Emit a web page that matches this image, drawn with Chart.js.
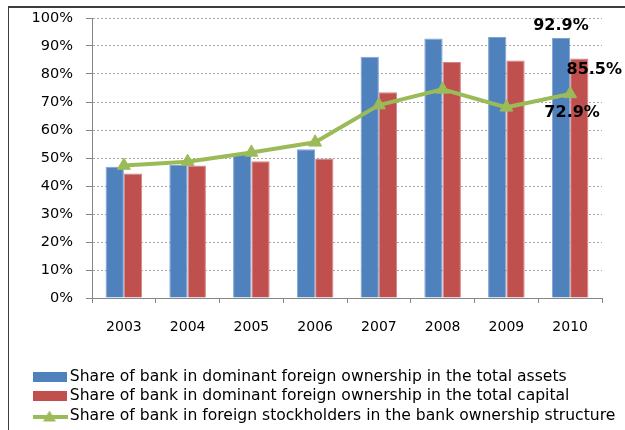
<!DOCTYPE html>
<html>
<head>
<meta charset="utf-8">
<script src="https://cdn.jsdelivr.net/npm/chart.js@4.4.0/dist/chart.umd.min.js"></script>
<style>
    html, body { margin: 0; padding: 0; background: #fff; }
    #contenedor { position: relative; width: 625px; height: 430px; }
    #marco {
        position: absolute; left: 8px; top: 6px; right: 0; bottom: 0;
        border-top: 2px solid #3c3c3c; border-left: 1px solid #3c3c3c;
        pointer-events: none;
    }
</style>
</head>
<body>
<div id="contenedor">
    <canvas id="grafica" width="625" height="430"></canvas>
    <div id="marco"></div>
</div>
<script>
// Datos
const years = ['2003', '2004', '2005', '2006', '2007', '2008', '2009', '2010'];
const assetsShare = [46.9, 47.5, 51.7, 53.1, 86.2, 92.7, 93.2, 92.9];
const capitalShare = [44.5, 47.3, 48.8, 49.8, 73.5, 84.3, 84.8, 85.5];
const stockholdersShare = [47.3, 48.7, 52.0, 55.6, 68.9, 74.5, 68.1, 72.9];
const seriesNames = [
    'Share of bank in dominant foreign ownership in the total assets',
    'Share of bank in dominant foreign ownership in the total capital',
    'Share of bank in foreign stockholders in the bank ownership structure'
];
const yMin = 0;
const yMax = 100;
const yStep = 10;

const AZUL = '#4F81BD';
const ROJO = '#C0504D';
const VERDE = '#9BBB59';
const FUENTE = '"DejaVu Sans", sans-serif';

// Cajitas de la leyenda (rectangulo y linea con triangulo)
function cajaLeyenda(color) {
    const c = document.createElement('canvas');
    c.width = 35; c.height = 10;
    const g = c.getContext('2d');
    g.fillStyle = color;
    g.fillRect(0, 0, 35, 10);
    return c;
}

function lineaLeyenda(color) {
    const c = document.createElement('canvas');
    c.width = 36; c.height = 12;
    const g = c.getContext('2d');
    g.strokeStyle = color;
    g.lineWidth = 4;
    g.beginPath(); g.moveTo(0, 7); g.lineTo(36, 7); g.stroke();
    g.fillStyle = color;
    g.beginPath(); g.moveTo(18, 0.5); g.lineTo(24.5, 11.5); g.lineTo(11.5, 11.5); g.closePath(); g.fill();
    return c;
}

const simbolos = [cajaLeyenda(AZUL), cajaLeyenda(ROJO), lineaLeyenda(VERDE)];

// Etiquetas de valores del ultimo año
const etiquetas = {
    id: 'etiquetas',
    afterDatasetsDraw(chart) {
        const ctx = chart.ctx;
        const ultimo = years.length - 1;
        ctx.save();
        ctx.font = 'bold 16px "DejaVu Sans", sans-serif';
        ctx.fillStyle = '#000';
        ctx.textAlign = 'center';
        ctx.textBaseline = 'middle';
        const azul = chart.getDatasetMeta(0).data[ultimo];
        ctx.fillText(assetsShare[ultimo].toFixed(1) + '%', azul.x, azul.y - 12);
        const rojo = chart.getDatasetMeta(1).data[ultimo];
        ctx.fillText(capitalShare[ultimo].toFixed(1) + '%', rojo.x + 15, rojo.y + 11);
        const verde = chart.getDatasetMeta(2).data[ultimo];
        ctx.fillText(stockholdersShare[ultimo].toFixed(1) + '%', verde.x + 2, verde.y + 19);
        ctx.restore();
    }
};

Chart.defaults.font.family = FUENTE;
Chart.defaults.font.size = 14;
Chart.defaults.color = '#000';

const ctx = document.getElementById('grafica').getContext('2d');
const myChart = new Chart(ctx, {
    type: 'bar',
    data: {
        labels: years,
        datasets: [
            {
                label: seriesNames[0],
                data: assetsShare,
                backgroundColor: AZUL,
                borderColor: '#7ea3d3',
                borderWidth: { left: 1, right: 1, top: 1, bottom: 0 },
                categoryPercentage: 0.574,
                barPercentage: 1,
                order: 1
            },
            {
                label: seriesNames[1],
                data: capitalShare,
                backgroundColor: ROJO,
                borderColor: '#d58583',
                borderWidth: { left: 1, right: 1, top: 1, bottom: 0 },
                categoryPercentage: 0.574,
                barPercentage: 1,
                order: 1
            },
            {
                type: 'line',
                label: seriesNames[2],
                data: stockholdersShare,
                borderColor: VERDE,
                backgroundColor: VERDE,
                borderWidth: 4,
                tension: 0,
                pointStyle: 'triangle',
                pointRadius: 7.5,
                pointBackgroundColor: VERDE,
                pointBorderColor: VERDE,
                pointBorderWidth: 1,
                order: 0
            }
        ]
    },
    options: {
        responsive: false,
        animation: false,
        devicePixelRatio: 1,
        layout: {
            padding: { left: 33, top: 18, right: 0, bottom: -3.75 }
        },
        plugins: {
            tooltip: { enabled: false },
            legend: {
                position: 'bottom',
                align: 'start',
                labels: {
                    usePointStyle: true,
                    pointStyleWidth: 25,
                    boxHeight: 10,
                    padding: 4,
                    color: '#000',
                    font: { family: FUENTE, size: 15.6 },
                    sort: (a, b) => a.datasetIndex - b.datasetIndex,
                    generateLabels: function (chart) {
                        const items = Chart.defaults.plugins.legend.labels.generateLabels(chart);
                        items.forEach(item => {
                            item.pointStyle = simbolos[item.datasetIndex];
                        });
                        return items;
                    }
                }
            }
        },
        scales: {
            x: {
                grid: {
                    drawOnChartArea: false,
                    drawTicks: true,
                    tickLength: 5,
                    tickColor: '#868686',
                    offset: true
                },
                border: { color: '#868686', width: 1 },
                ticks: { padding: 16 },
                afterFit: function (scale) { scale.height = 66.95; }
            },
            y: {
                min: yMin,
                max: yMax,
                ticks: {
                    stepSize: yStep,
                    padding: 0,
                    font: { size: 14.5 },
                    callback: value => value + '%'
                },
                grid: {
                    color: '#a6a6a6',
                    tickColor: '#868686',
                    // la marca visible solo mide 6px, el resto hace de separacion del texto
                    tickLength: 19,
                    tickBorderDash: [6, 13],
                    tickBorderDashOffset: 6
                },
                border: { color: '#868686', width: 1, dash: [2, 2] },
                afterFit: function (scale) { scale.width = 59; }
            },
            // eje vacio a la derecha solo para dejar margen sin recortar la leyenda
            margenDerecho: {
                type: 'linear',
                axis: 'y',
                position: 'right',
                grid: { display: false },
                border: { display: false },
                ticks: { display: false },
                afterFit: function (scale) { scale.width = 23; }
            }
        }
    },
    plugins: [etiquetas]
});
</script>
</body>
</html>
